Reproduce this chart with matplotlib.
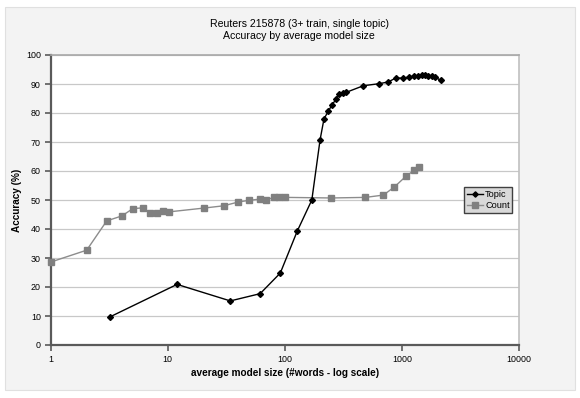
import matplotlib
matplotlib.use("Agg")
import matplotlib.pyplot as plt
from matplotlib.patches import Rectangle

plt.rcParams['font.family'] = ['Liberation Sans Narrow', 'Liberation Sans', 'DejaVu Sans']

title = "Reuters 215878 (3+ train, single topic)\nAccuracy by average model size"
xlabel = "average model size (#words - log scale)"
ylabel = "Accuracy (%)"

topic_x = [3.21, 12.0, 34.2, 61.5, 91.4, 127.7, 170, 200, 216, 235, 253, 273, 291, 312, 333,
           468, 637, 764, 889, 1014, 1148, 1266, 1377, 1473, 1572, 1678, 1794, 1914, 2139]
topic_y = [9.7, 20.9, 15.2, 17.7, 24.8, 39.3, 50.0, 70.8, 78.0, 80.6, 82.8, 84.7, 86.4, 86.8, 87.1,
           89.4, 90.1, 90.7, 92.1, 92.0, 92.4, 92.7, 92.9, 93.0, 93.0, 92.9, 92.7, 92.4, 91.3]

count_x = [1, 2.03, 3.01, 4.05, 5.02, 6.1, 7.02, 8.05, 9.06, 10.2, 20.2, 30.0, 40.0, 49.8, 60.8,
           69.5, 80, 90, 101, 250, 488, 695, 862, 1090, 1270, 1395]
count_y = [28.6, 32.7, 42.8, 44.5, 47.0, 47.3, 45.6, 45.6, 46.3, 45.9, 47.2, 48.0, 49.3, 49.9, 50.3,
           50.0, 50.9, 50.9, 50.9, 50.7, 50.9, 51.7, 54.5, 58.3, 60.2, 61.4]

xticks = [1, 10, 100, 1000, 10000]
xticklabels = ["1", "10", "100", "1000", "10000"]
yticks = list(range(0, 101, 10))

W, H = 580, 398
fig = plt.figure(figsize=(W / 100, H / 100), dpi=100)
fig.patch.set_facecolor('white')
bg = Rectangle((5 / W, 1 - 390 / H), 570 / W, 383 / H, transform=fig.transFigure,
               facecolor='#f3f3f3', edgecolor='#e0e0e0', linewidth=0.8, zorder=-10)
fig.add_artist(bg)

ax = fig.add_axes([50.7 / W, 1 - 345 / H, (519 - 50.7) / W, (345 - 55) / H])
ax.set_zorder(1)
ax.set_facecolor('white')
ax.set_xscale('log')
ax.set_xlim(1, 10000)
ax.set_ylim(0, 100)
ax.set_xticks(xticks)
ax.set_xticklabels(xticklabels)
ax.minorticks_off()
ax.set_yticks(yticks)
ax.yaxis.grid(True, color='#c8c8c8', linewidth=0.9)
ax.set_axisbelow(True)

for s in ['left', 'bottom']:
    ax.spines[s].set_color('#5a5a5a')
    ax.spines[s].set_linewidth(1.6)
ax.spines['top'].set_color('#a8a8a8')
ax.spines['top'].set_linewidth(1.2)
ax.spines['right'].set_color('#c0c0c0')
ax.spines['right'].set_linewidth(1.2)

ax.tick_params(axis='both', direction='out', length=4, width=1.2, color='#5a5a5a',
               labelsize=6.4, labelcolor='black', pad=3)

ax.plot(topic_x, topic_y, color='black', linewidth=1.0, marker='D', markersize=3.0,
        markerfacecolor='black', markeredgecolor='black', label='Topic', zorder=4, clip_on=False)
ax.plot(count_x, count_y, color='#8c8c8c', linewidth=1.0, marker='s', markersize=4.2,
        markerfacecolor='#808080', markeredgecolor='#808080', label='Count', zorder=3, clip_on=False)

ax.set_xlabel(xlabel, fontsize=7.2, fontweight='bold')
ax.xaxis.set_label_coords((285 - 50.7) / (519 - 50.7), -(373 - 345) / (345 - 55))
ax.xaxis.label.set_va('center')
ax.set_ylabel(ylabel, fontsize=7.2, fontweight='bold')
ax.yaxis.set_label_coords((22 - 50.7) / (519 - 50.7), 0.5)

fig.text(299 / W, 1 - 30 / H, title, ha='center', va='center', fontsize=7.6, linespacing=1.35)

leg = ax.legend(loc='upper left', bbox_to_anchor=((464 - 50.7) / (519 - 50.7), (345 - 187) / (345 - 55)),
                fontsize=6.6, frameon=True, fancybox=False, borderpad=0.3, labelspacing=0.25,
                handlelength=1.8, handletextpad=0.2, borderaxespad=0, markerscale=0.9)
leg.get_frame().set_facecolor('#d9d9d9')
leg.get_frame().set_edgecolor('#404040')
leg.get_frame().set_linewidth(1.0)
leg.get_frame().set_alpha(1)

fig.savefig('out.png', dpi=100, facecolor=fig.get_facecolor())
